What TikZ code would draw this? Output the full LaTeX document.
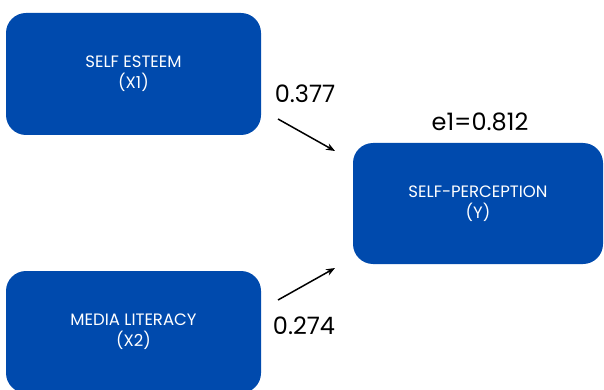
\documentclass[tikz,border=0pt]{standalone}
\usepackage{fontspec}
\setmainfont{Poppins}
\usetikzlibrary{arrows.meta}
\definecolor{boxblue}{RGB}{0,74,173}
\tikzset{
  varbox/.style={fill=boxblue, draw=none, rounded corners=20pt, minimum width=255pt, minimum height=122pt,
    text=white, align=center, font=\fontsize{16.5}{21}\selectfont, inner sep=0pt},
  coef/.style={font=\fontsize{24}{26}\selectfont, text=black, inner sep=0pt},
  path/.style={-{Stealth[length=9pt,width=7pt]}, line width=1.5pt, black}
}
\begin{document}
\begin{tikzpicture}[x=1pt,y=-1pt]
\useasboundingbox (0,0) rectangle (604,390);
\node[varbox] (x1) at (133.5,74) {SELF ESTEEM\\(X1)};
\node[varbox] (x2) at (133.5,332) {MEDIA LITERACY\\(X2)};
\node[varbox, minimum width=250pt, minimum height=121pt] (y) at (478,203.5) {SELF-PERCEPTION\\(Y)};
\node[coef] (c1) at (305,94) {0.377};
\node[coef] (c2) at (304,326) {0.274};
\node[coef] (e1) at (480,122) {e1=0.812};
\coordinate (a1s) at (278,119);
\coordinate (a1e) at (335,151);
\coordinate (a2s) at (278,300);
\coordinate (a2e) at (335,268);
\draw[path] (a1s) -- (a1e);
\draw[path] (a2s) -- (a2e);
\end{tikzpicture}
\end{document}
